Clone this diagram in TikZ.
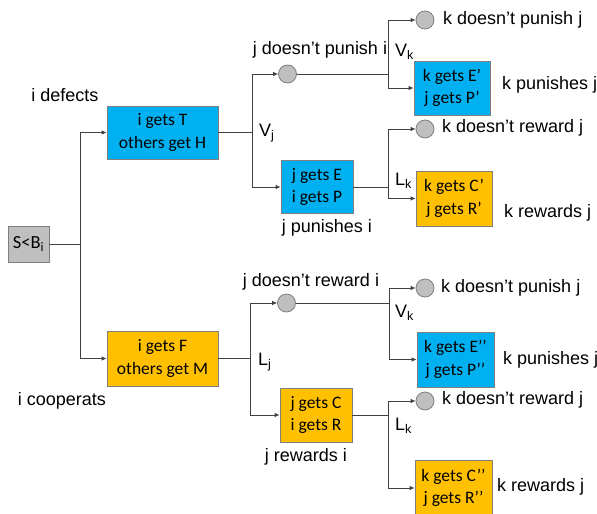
\documentclass[tikz,border=0pt]{standalone}
\usepackage{fontspec}
\setmainfont{Liberation Sans}
\newfontfamily\boxfont{Carlito}
\usetikzlibrary{arrows.meta}
\definecolor{boxblue}{HTML}{00B0F0}
\definecolor{boxorange}{HTML}{FFC000}
\definecolor{boxgray}{HTML}{BFBFBF}
\definecolor{edgegray}{HTML}{7F7F7F}
\definecolor{linegray}{HTML}{404040}
\tikzset{
  bx/.style={draw=edgegray, line width=0.8pt, align=center, inner sep=0pt,
    font=\boxfont\fontsize{17.5}{22.5}\selectfont},
  bluebox/.style={bx, fill=boxblue},
  orangebox/.style={bx, fill=boxorange},
  graybox/.style={bx, fill=boxgray},
  chance/.style={circle, draw=edgegray, fill=boxgray, line width=0.8pt, minimum size=18pt, inner sep=0pt},
  lbl/.style={inner sep=0pt, font=\fontsize{18}{21}\selectfont},
  conn/.style={draw=linegray, line width=0.8pt},
  arr/.style={conn, -{Latex[length=5pt,width=4.5pt]}},
}
\begin{document}
\begin{tikzpicture}[x=1pt,y=-1pt]
\useasboundingbox (0,0) rectangle (597,514);
% boxes
\node[graybox, minimum width=41pt, minimum height=36pt, font=\boxfont\fontsize{18.5}{22}\selectfont] (root) at (28.5,244) {S<B\textsubscript{i}};
\node[bluebox, minimum width=111pt, minimum height=53pt] (T) at (162.5,132.5) {i gets T\\others get H};
\node[orangebox, minimum width=111pt, minimum height=55pt] (F) at (162.5,358.5) {i gets F\\others get M};
\node[bluebox, minimum width=72pt, minimum height=53pt] (jE) at (317,187) {j gets E\\i gets P};
\node[orangebox, minimum width=72pt, minimum height=54pt] (jC) at (316,415) {j gets C\\i gets R};
\node[bluebox, minimum width=76pt, minimum height=54pt] (Ep) at (452,88) {k gets E’\\j gets P’};
\node[orangebox, minimum width=76pt, minimum height=55pt] (Cp) at (454,198.5) {k gets C’\\j gets R’};
\node[bluebox, minimum width=77pt, minimum height=55pt] (Epp) at (455.5,359.5) {k gets E’{}’\\j gets P’{}’};
\node[orangebox, minimum width=77pt, minimum height=55pt] (Cpp) at (453.5,488) {k gets C’{}’\\j gets R’{}’};
% chance nodes
\node[chance] (c1) at (287.5,74) {};
\node[chance] (c2) at (425,20) {};
\node[chance] (c3) at (425,129) {};
\node[chance] (c4) at (286.5,303) {};
\node[chance] (c5) at (425,288) {};
\node[chance] (c6) at (425,401) {};
% split points
\coordinate (s1) at (80,244);
\coordinate (s2) at (252,132.5);
\coordinate (s3) at (388,74);
\coordinate (s4) at (388,187);
\coordinate (s5) at (250,358.5);
\coordinate (s6) at (389,303);
\coordinate (s7) at (388,415);
% connectors
\draw[conn] (root.east) -- (s1);
\draw[arr] (s1) |- (T.west);
\draw[arr] (s1) |- (F.west);
\draw[conn] (T.east) -- (s2);
\draw[arr] (s2) |- (c1.west);
\draw[arr] (s2) |- (jE.west);
\draw[conn] (c1.east) -- (s3);
\draw[arr] (s3) |- (c2.west);
\draw[arr] (s3) |- (Ep.west);
\draw[conn] (jE.east) -- (s4);
\draw[arr] (s4) |- (c3.west);
\draw[arr] (s4) |- (Cp.west);
\draw[conn] (F.east) -- (s5);
\draw[arr] (s5) |- (c4.west);
\draw[arr] (s5) |- (jC.west);
\draw[conn] (c4.east) -- (s6);
\draw[arr] (s6) |- (c5.west);
\draw[arr] (s6) |- (Epp.west);
\draw[conn] (jC.east) -- (s7);
\draw[arr] (s7) |- (c6.west);
\draw[arr] (s7) |- (Cpp.west);
% labels
\node[lbl] (l1) at (65,95) {i defects};
\node[lbl] (l2) at (62,401) {i cooperats};
\node[lbl, anchor=west] (l3) at (259,133) {V\textsubscript{j}};
\node[lbl] (l4) at (320,50) {j doesn’t punish i};
\node[lbl, anchor=west] (l5) at (443,20) {k doesn’t punish j};
\node[lbl, anchor=west] (l6) at (395,52) {V\textsubscript{k}};
\node[lbl, anchor=west] (l7) at (502,85) {k punishes j};
\node[lbl] (l8) at (327,228) {j punishes i};
\node[lbl, anchor=west] (l9) at (442,128) {k doesn’t reward j};
\node[lbl, anchor=west] (l10) at (395,181) {L\textsubscript{k}};
\node[lbl, anchor=west] (l11) at (504,213) {k rewards j};
\node[lbl] (l12) at (311,282) {j doesn’t reward i};
\node[lbl, anchor=west] (l13) at (258,362) {L\textsubscript{j}};
\node[lbl, anchor=west] (l14) at (441,288) {k doesn’t punish j};
\node[lbl, anchor=west] (l15) at (395,313) {V\textsubscript{k}};
\node[lbl, anchor=west] (l16) at (503,360) {k punishes j};
\node[lbl] (l17) at (306,457) {j rewards i};
\node[lbl, anchor=west] (l18) at (442,400) {k doesn’t reward j};
\node[lbl, anchor=west] (l19) at (395,426) {L\textsubscript{k}};
\node[lbl, anchor=west] (l20) at (497,487) {k rewards j};
\end{tikzpicture}
\end{document}
